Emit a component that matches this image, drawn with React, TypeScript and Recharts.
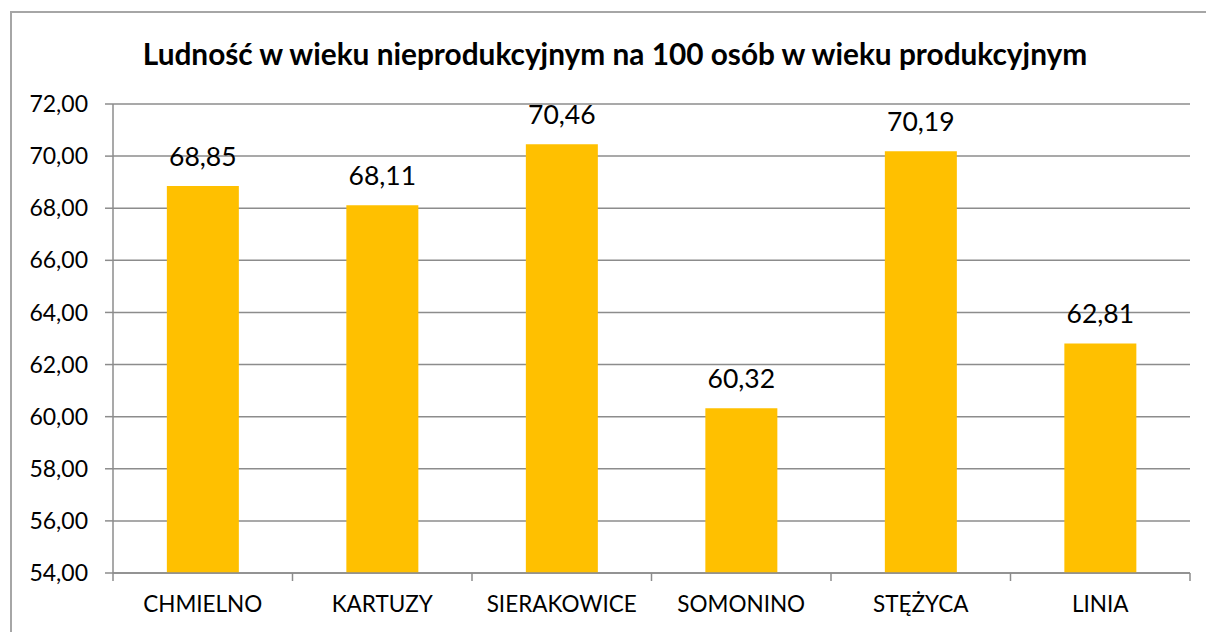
import { BarChart, Bar, XAxis, YAxis, CartesianGrid, LabelList } from "recharts";

const categories = ["CHMIELNO", "KARTUZY", "SIERAKOWICE", "SOMONINO", "STĘŻYCA", "LINIA"];
const values = [68.85, 68.11, 70.46, 60.32, 70.19, 62.81];
const yTicks = [54, 56, 58, 60, 62, 64, 66, 68, 70, 72];

const TITLE = "Ludność w wieku nieprodukcyjnym na 100 osób w wieku produkcyjnym";
const FONT = "Lato, Carlito, 'Open Sans', sans-serif";
const GRAY = "#8c8c8c";
const LABEL_GAP = 23;

const data = categories.map((name, i) => ({ name, value: values[i] }));

const fmt = (v: number) => v.toFixed(2).replace(".", ",");

// category label plus the tick marks that sit between categories
const CategoryTick = (props: any) => {
  const { x, y, payload, index, visibleTicksCount } = props;
  const half = payload.offset || 0;
  const axisY = y - LABEL_GAP;
  return (
    <g>
      <line x1={x - half} x2={x - half} y1={axisY} y2={axisY + 8} stroke={GRAY} strokeWidth={1.5} />
      {index === visibleTicksCount - 1 && (
        <line x1={x + half} x2={x + half} y1={axisY} y2={axisY + 8} stroke={GRAY} strokeWidth={1.5} />
      )}
      <text x={x} y={y} dy="0.71em" textAnchor="middle" fill="#000" fontSize={22.5} fontFamily={FONT}>
        {payload.value}
      </text>
    </g>
  );
};

const App = () => {
  return (
    <div style={{ position: "absolute", left: 0, top: 0, width: 1206, height: 632, overflow: "hidden", background: "#fff", fontFamily: FONT }}>
      <div
        style={{
          position: "absolute",
          left: 10,
          top: 11,
          width: 1240,
          height: 700,
          border: "2px solid #a6a6a6",
        }}
      />
      <div
        style={{
          position: "absolute",
          left: 0,
          top: 39,
          width: 1230,
          textAlign: "center",
          fontWeight: 700,
          fontSize: 29.8,
          lineHeight: 1,
          color: "#000",
        }}
      >
        {TITLE}
      </div>
      <div style={{ position: "absolute", left: 0, top: 0 }}>
        <BarChart
          width={1206}
          height={632}
          data={data}
          margin={{ top: 104, right: 16, bottom: 19, left: 33 }}
          barCategoryGap="30%"
        >
          <CartesianGrid vertical={false} stroke={GRAY} strokeWidth={1.5} />
          <XAxis
            dataKey="name"
            height={40}
            tickLine={false}
            tickSize={0}
            tickMargin={LABEL_GAP}
            axisLine={{ stroke: GRAY, strokeWidth: 1.5 }}
            tick={<CategoryTick />}
            interval={0}
          />
          <YAxis
            width={80}
            domain={[54, 72]}
            ticks={yTicks}
            allowDataOverflow
            tickFormatter={fmt}
            tickSize={8}
            tickMargin={17}
            axisLine={{ stroke: GRAY, strokeWidth: 1.5 }}
            tickLine={{ stroke: GRAY, strokeWidth: 1.5 }}
            tick={{ fill: "#000", fontSize: 23, fontFamily: FONT }}
          />
          <Bar dataKey="value" fill="#FFC000" isAnimationActive={false}>
            <LabelList
              dataKey="value"
              position="top"
              offset={20}
              formatter={(v: number) => fmt(v)}
              style={{ fill: "#000", fontSize: 26.5, fontFamily: FONT }}
            />
          </Bar>
        </BarChart>
      </div>
    </div>
  );
};

export default App;
